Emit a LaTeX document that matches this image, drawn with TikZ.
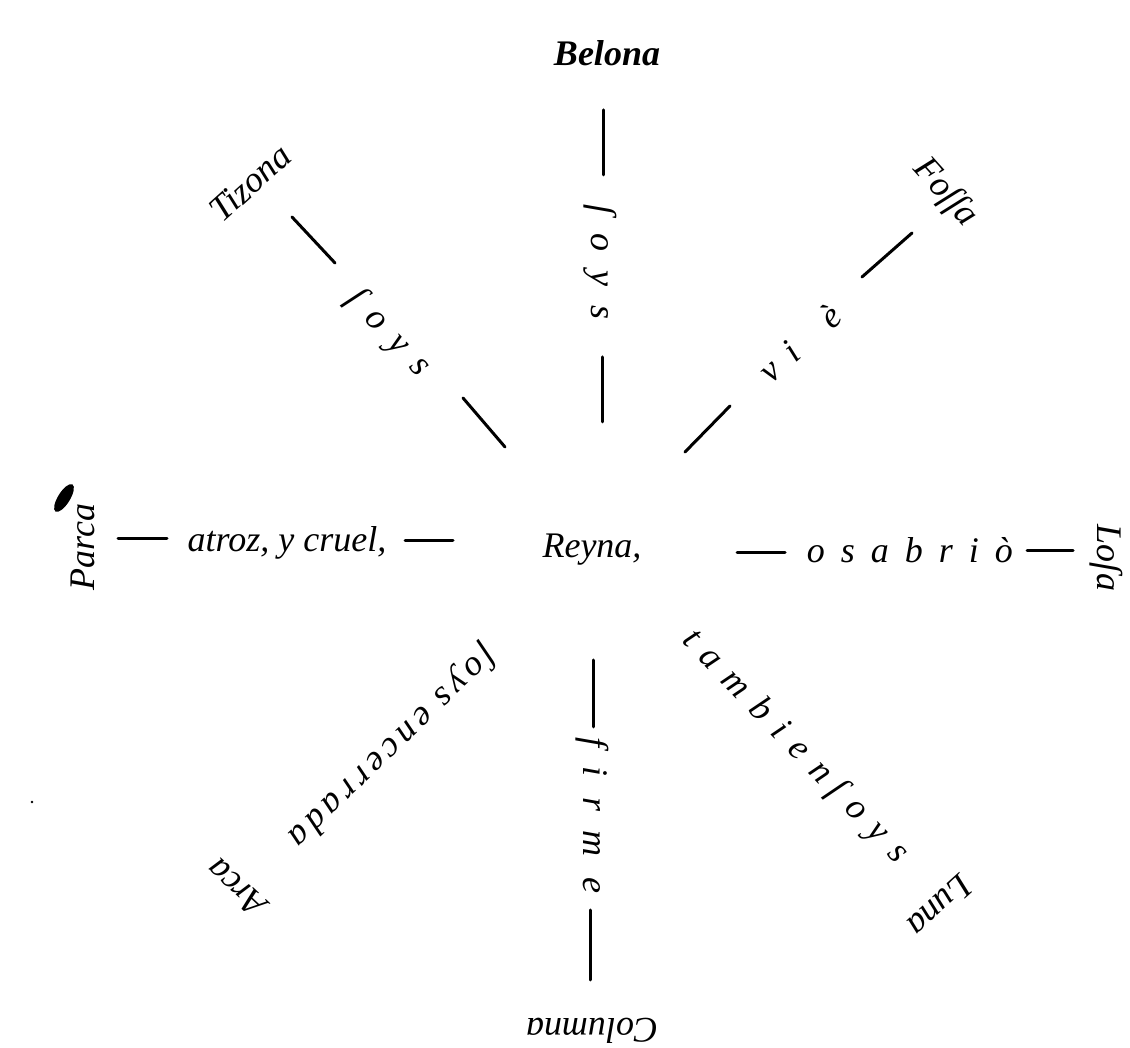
\documentclass[tikz,border=0pt]{standalone}
\usepackage{fontspec}
\setmainfont{Liberation Serif}
\newcommand\gapped[2]{{\spaceskip=#1\relax #2}}
\tikzset{
  lbl/.style={font=\fontsize{36}{40}\selectfont\itshape, inner sep=0pt},
  ttl/.style={font=\fontsize{36}{40}\selectfont\bfseries\itshape, inner sep=0pt},
  bar/.style={line width=3pt, line cap=round}
}
\begin{document}
\begin{tikzpicture}[x=1pt,y=1pt]
\fill[white] (0,0) rectangle (1130,1047);
\useasboundingbox (0,0) rectangle (1130,1047);
% centre
\node[lbl] (reyna) at (592,497) {Reyna,};
% top ray
\node[ttl] (belona) at (607,994) {Belona};
\node[lbl, rotate=-90] (soysT) at (600,785) {\gapped{19pt}{ſ o y s}};
\draw[bar] (603,937) coordinate (t1a) -- (603,872) coordinate (t1b);
\draw[bar] (602,690) coordinate (t2a) -- (602,625) coordinate (t2b);
% upper left ray
\node[lbl, rotate=42] (tizona) at (250,864) {Tizona};
\node[lbl, rotate=-47] (soysTL) at (388,714) {\gapped{16pt}{ſ o y s}};
\draw[bar] (292,830) coordinate (l1a) -- (335,784) coordinate (l1b);
\draw[bar] (463,649) coordinate (l2a) -- (505,600) coordinate (l2b);
% upper right ray
\node[lbl, rotate=-48] (fossa) at (945,854) {Foſſa};
\node[lbl, rotate=42] (vie) at (800,704) {v\hskip16pt i\hskip40pt è};
\draw[bar] (685,595) coordinate (r1a) -- (730,641) coordinate (r1b);
\draw[bar] (862,770) coordinate (r2a) -- (912,814) coordinate (r2b);
% left ray
\node[lbl, rotate=90] (parca) at (83,500) {Parca};
\fill[rotate around={58:(64,549)}] (64,549) ellipse (16 and 6);
\node[lbl] (atroz) at (287,504) {atroz, y cruel,};
\draw[bar] (118,508) coordinate (h1a) -- (167,508) coordinate (h1b);
\draw[bar] (405,506) coordinate (h2a) -- (453,506) coordinate (h2b);
% right ray
\node[lbl] (osabrio) at (910,497) {\gapped{16pt}{o s a b r i ò}};
\draw[bar] (737,494) coordinate (h3a) -- (785,494) coordinate (h3b);
\draw[bar] (1027,496) coordinate (h4a) -- (1073,496) coordinate (h4b);
\node[lbl, rotate=-90] (losa) at (1106,489) {Loſa};
% bottom ray
\draw[bar] (593,387) coordinate (b1a) -- (593,320) coordinate (b1b);
\node[lbl, rotate=-90] (firme) at (592,232) {\gapped{20pt}{f i r m e}};
\draw[bar] (590,137) coordinate (b2a) -- (590,67) coordinate (b2b);
\node[lbl, rotate=180] (columna) at (592,16) {Columna};
% lower left ray
\node[lbl, rotate=224] (encerrada) at (392,301) {\addfontfeature{LetterSpace=14}ſoys\hskip14pt encerrada};
\node[lbl, rotate=137] (arca) at (236,159) {Arca};
% lower right ray
\node[lbl, rotate=-46] (tambien) at (795,300) {\gapped{14pt}{t a m b i e n\hskip10pt ſ o y s}};
\node[lbl, rotate=222] (luna) at (940,141) {Luna};
% speck
\fill (32,245) circle (1.3);
\end{tikzpicture}
\end{document}
